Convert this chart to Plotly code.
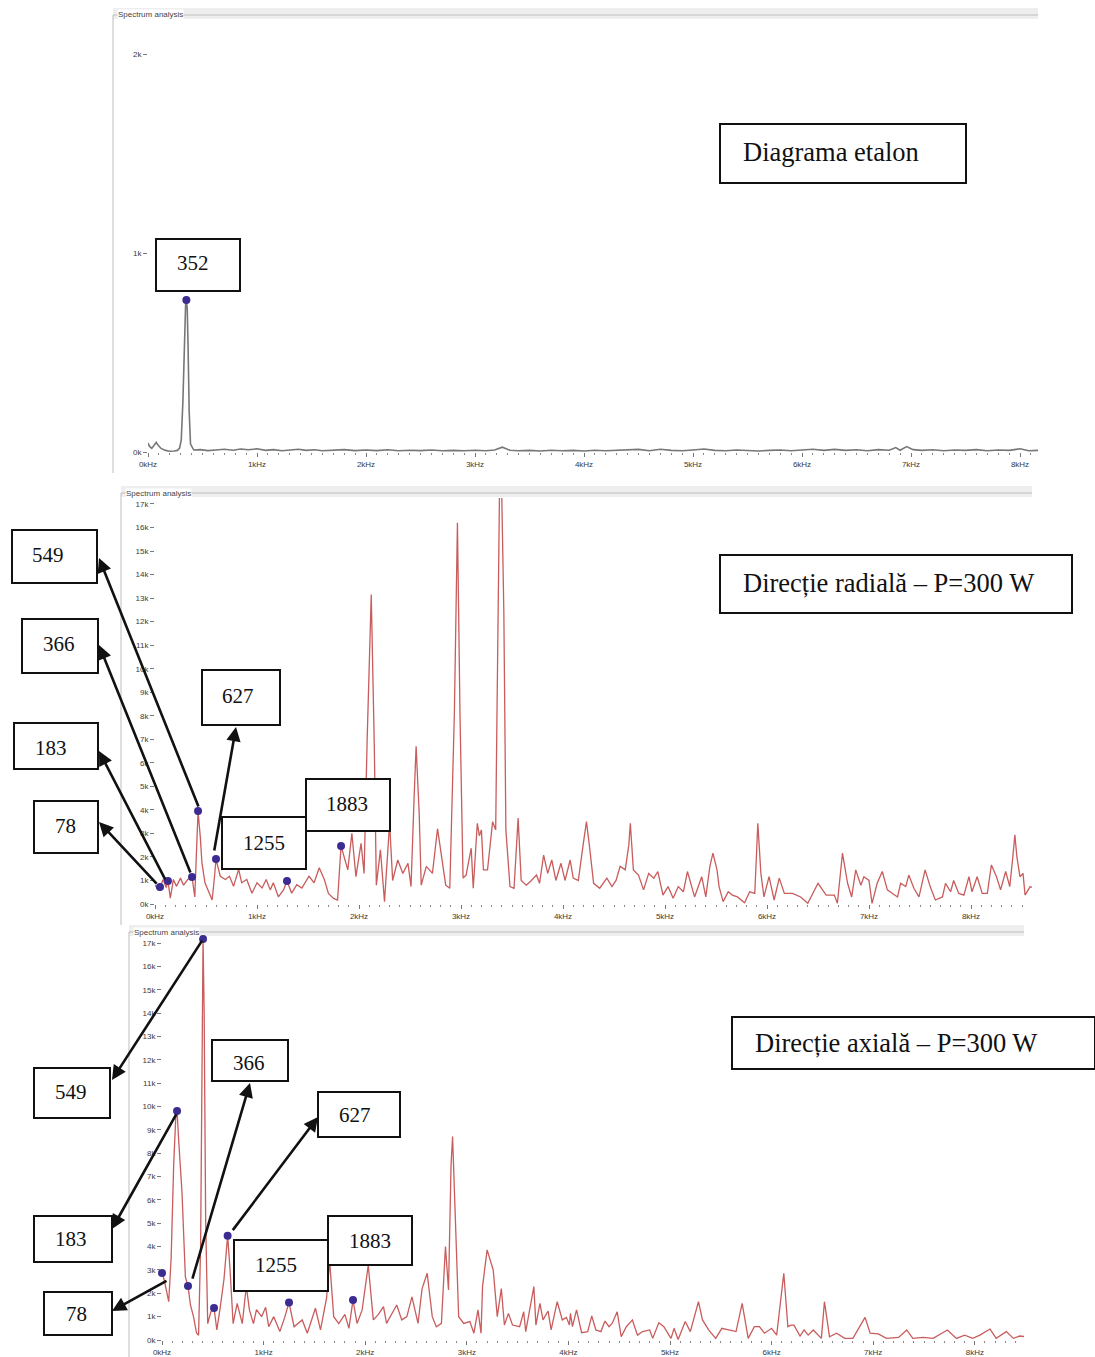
import plotly.graph_objects as go

W, H = 1095, 1357

# ---------------- DATA ----------------
# Panel 1 : reference spectrum (Diagrama etalon)
etalon_freq = [0, 15, 35, 55, 75, 95, 120, 160, 200, 240,
               270, 290, 305, 320, 335, 345, 352, 360, 368, 378,
               390, 420, 480, 550, 620, 700, 780, 850, 920, 1000, 1080,
               1150, 1230, 1300, 1380, 1450, 1530, 1600, 1700, 1800, 1900,
               2000, 2100, 2200, 2300, 2400, 2500, 2600, 2700, 2800, 2900,
               3000, 3100, 3180, 3250, 3320, 3400, 3500, 3600, 3700, 3800,
               3900, 4000, 4100, 4200, 4300, 4400, 4500, 4600, 4700, 4800,
               4900, 5000, 5100, 5200, 5300, 5400, 5500, 5600, 5700, 5800,
               5900, 6000, 6100, 6200, 6300, 6400, 6500, 6600, 6700, 6800,
               6860, 6900, 6960, 7020, 7100, 7200, 7300, 7400, 7500, 7600,
               7700, 7800, 7900, 8000, 8080, 8165]
etalon_amp = [45, 28, 18, 34, 48, 33, 18, 8, 4, 5,
              8, 20, 60, 250, 560, 740, 764, 720, 520, 200,
              40, 10, 12, 7, 10, 14, 9, 15, 11, 16, 8,
              12, 6, 10, 14, 8, 11, 6, 9, 12, 7,
              10, 7, 11, 6, 9, 7, 10, 6, 8, 6,
              9, 6, 10, 24, 9, 6, 8, 5, 9, 6,
              8, 5, 9, 6, 8, 11, 13, 6, 14, 8,
              6, 10, 15, 8, 6, 10, 7, 5, 8, 10,
              6, 10, 14, 8, 13, 8, 11, 6, 12, 9,
              22, 9, 27, 12, 8, 11, 6, 10, 8, 12,
              6, 10, 8, 16, 6, 8]
etalon_dot_freq = [352]
etalon_dot_amp = [764]

# Panel 2 : radial direction, P=300 W
radial_freq = [0, 30, 49, 80, 110, 127, 150, 180, 210, 250,
               280, 320, 363, 390, 410, 422, 445, 460, 490, 530,
               560, 580, 598, 640, 690, 730, 770, 820, 850, 900,
               950, 1000, 1050, 1090, 1130, 1160, 1210, 1260, 1294, 1340,
               1390, 1440, 1510, 1560, 1610, 1660, 1700, 1750, 1790, 1824,
               1890, 1930, 1970, 2020, 2050, 2080, 2120, 2150, 2170, 2210,
               2250, 2300, 2330, 2380, 2430, 2480, 2510, 2540, 2560, 2590,
               2610, 2660, 2720, 2770, 2820, 2850, 2890, 2935, 2965, 2990,
               3020, 3050, 3100, 3120, 3160, 3180, 3200, 3220, 3260, 3310,
               3340, 3365, 3380, 3395, 3420, 3440, 3480, 3520, 3560, 3590,
               3640, 3690, 3740, 3770, 3810, 3850, 3890, 3930, 3980, 4020,
               4070, 4100, 4150, 4200, 4230, 4260, 4300, 4360, 4430, 4480,
               4520, 4560, 4610, 4645, 4660, 4690, 4740, 4790, 4840, 4890,
               4930, 4980, 5030, 5080, 5130, 5180, 5220, 5290, 5360, 5400,
               5440, 5470, 5510, 5530, 5570, 5620, 5660, 5710, 5780, 5830,
               5880, 5900, 5910, 5940, 5970, 6020, 6070, 6120, 6170, 6250,
               6330, 6400, 6500, 6580, 6660, 6690, 6740, 6790, 6830, 6870,
               6920, 6950, 7000, 7030, 7080, 7130, 7180, 7230, 7280, 7310,
               7360, 7390, 7440, 7490, 7550, 7600, 7650, 7720, 7750, 7800,
               7830, 7880, 7930, 7980, 8010, 8060, 8110, 8160, 8200, 8250,
               8290, 8340, 8380, 8410, 8430, 8450, 8480, 8510, 8530, 8580,
               8598]
radial_amp = [800, 600, 720, 1040, 700, 980, 250, 1040, 750, 1100,
              800, 1040, 1150, 300, 2600, 3950, 2800, 1750, 900, 500,
              170, 1000, 1910, 1180, 1040, 1180, 750, 1470, 900, 1040,
              460, 900, 680, 1040, 600, 900, 300, 600, 980, 460,
              820, 680, 1180, 900, 1540, 1040, 450, 240, 170, 2465,
              1450, 3000, 1160, 2580, 1300, 7000, 13150, 6700, 800, 2300,
              100, 3430, 1000, 1870, 1300, 1730, 740, 4500, 6700, 3860,
              800, 1600, 1300, 3200, 1730, 800, 670, 8100, 16200, 8100,
              1100, 1230, 2370, 670, 3430, 2900, 3150, 1450, 1450, 3500,
              3150, 11500, 18500, 18500, 12400, 3150, 740, 670, 3650, 1000,
              800, 1000, 1230, 880, 2080, 1300, 1870, 1000, 1730, 1000,
              1870, 1100, 1000, 2600, 3500, 2440, 880, 670, 1100, 740,
              1000, 1600, 1450, 2500, 3430, 1450, 1230, 600, 1300, 1100,
              1380, 380, 740, 240, 740, 520, 1380, 300, 1160, 300,
              1600, 2160, 1450, 740, 100, 520, 380, 300, 50, 520,
              450, 2400, 3430, 1300, 300, 1160, 170, 1100, 450, 450,
              300, 30, 880, 380, 380, 30, 2160, 880, 300, 1450,
              800, 1160, 1000, 30, 880, 1380, 600, 450, 300, 880,
              740, 1230, 670, 300, 1450, 740, 170, 300, 880, 520,
              1000, 450, 380, 1160, 520, 1160, 450, 450, 1660, 1160,
              600, 1380, 740, 2000, 2940, 2000, 1160, 1300, 380, 740,
              700]
radial_dot_freq = [49, 127, 363, 422, 598, 1294, 1824]
radial_dot_amp = [720, 980, 1150, 3950, 1910, 980, 2465]

# Panel 3 : axial direction, P=300 W
axial_freq = [0, 20, 40, 66, 90, 115, 135, 148, 165, 197,
              230, 256, 280, 310, 340, 360, 380, 396, 404, 415,
              430, 450, 480, 512, 540, 570, 610, 646, 670, 700,
              740, 790, 830, 860, 900, 930, 980, 1020, 1050, 1100,
              1160, 1210, 1250, 1300, 1380, 1430, 1510, 1560, 1620, 1650,
              1690, 1740, 1800, 1840, 1880, 1920, 1970, 2030, 2080, 2130,
              2180, 2210, 2260, 2310, 2360, 2410, 2460, 2520, 2560, 2610,
              2660, 2700, 2750, 2790, 2820, 2845, 2860, 2880, 2920, 2970,
              3030, 3070, 3110, 3140, 3155, 3200, 3260, 3300, 3340, 3370,
              3410, 3450, 3520, 3560, 3580, 3660, 3680, 3720, 3750, 3800,
              3830, 3890, 3940, 3980, 4010, 4020, 4040, 4080, 4130, 4190,
              4230, 4270, 4320, 4360, 4400, 4430, 4480, 4520, 4570, 4630,
              4680, 4730, 4800, 4830, 4890, 4940, 5010, 5040, 5080, 5150,
              5200, 5280, 5320, 5380, 5450, 5510, 5570, 5650, 5710, 5770,
              5830, 5880, 5930, 6000, 6050, 6120, 6160, 6190, 6220, 6280,
              6320, 6360, 6410, 6490, 6520, 6570, 6640, 6720, 6800, 6850,
              6920, 6970, 7050, 7130, 7250, 7330, 7390, 7490, 7590, 7730,
              7820, 7900, 7980, 8050, 8150, 8210, 8310, 8380, 8440, 8484]
axial_amp = [2870, 2600, 2200, 1640, 3500, 7500, 9500, 9810, 8500, 6300,
             2700, 2310, 1500, 1000, 300, 200, 4000, 16000, 17170, 14000,
             5000, 700, 1200, 1370, 430, 1300, 2600, 4470, 3000, 700,
             1570, 700, 2300, 1300, 700, 1300, 1000, 1400, 570, 1000,
             360, 1000, 1610, 570, 860, 290, 1360, 430, 1800, 3400,
             1000, 700, 1100, 500, 1710, 710, 1290, 3200, 860, 1100,
             1430, 710, 1100, 1500, 860, 1000, 1850, 710, 2200, 2860,
             1000, 570, 710, 4000, 2140, 7500, 8710, 6000, 1000, 710,
             790, 290, 1290, 290, 2300, 3860, 3000, 1000, 2200, 640,
             1140, 640, 570, 1210, 360, 2290, 640, 1570, 860, 1240,
             430, 1640, 860, 970, 640, 1140, 570, 1290, 310, 360,
             1030, 430, 360, 810, 570, 710, 1210, 140, 570, 860,
             210, 360, 430, 70, 740, 570, 70, 500, 20, 790,
             360, 1640, 860, 430, 70, 500, 430, 360, 1570, 70,
             570, 570, 290, 500, 210, 2860, 570, 640, 640, 170,
             430, 210, 430, 70, 1640, 140, 290, 70, 70, 430,
             970, 290, 260, 70, 110, 430, 70, 110, 70, 430,
             70, 210, 70, 210, 470, 70, 360, 70, 170, 150]
axial_dot_freq = [0, 148, 256, 404, 512, 646, 1250, 1880]
axial_dot_amp = [2870, 9810, 2310, 17170, 1370, 4470, 1610, 1710]

# tick labels
x_tick_vals = [0, 1000, 2000, 3000, 4000, 5000, 6000, 7000, 8000]
x_tick_text = ["0kHz", "1kHz", "2kHz", "3kHz", "4kHz", "5kHz", "6kHz", "7kHz", "8kHz"]
y_small_vals = [0, 1000, 2000]
y_small_text = ["0k", "1k", "2k"]
y_big_vals = [0, 1000, 2000, 3000, 4000, 5000, 6000, 7000, 8000, 9000,
              10000, 11000, 12000, 13000, 14000, 15000, 16000, 17000]
y_big_text = ["0k", "1k", "2k", "3k", "4k", "5k", "6k", "7k", "8k", "9k",
              "10k", "11k", "12k", "13k", "14k", "15k", "16k", "17k"]

titles = ["Diagrama etalon", "Direcție radială – P=300 W", "Direcție axială – P=300 W"]
frame_label = "Spectrum analysis"
etalon_labels = ["352"]
radial_labels = ["549", "366", "627", "183", "78", "1883", "1255"]
axial_labels = ["549", "366", "627", "183", "78", "1883", "1255"]

# ---------------- LAYOUT GEOMETRY (pixels) ----------------
panels = [
    dict(x0=148, kpx=109.0, y0=452, vpx=199.0, right=1038, top=22,
         frame=(113, 15, 1038, 473), band=(113, 8, 1038, 19), lab=(117, 15)),
    dict(x0=155, kpx=102.0, y0=904, vpx=23.53, right=1032, top=498,
         frame=(121, 493, 1032, 925), band=(121, 486, 1032, 497), lab=(125, 493)),
    dict(x0=162, kpx=101.6, y0=1340, vpx=23.35, right=1024, top=937,
         frame=(129, 932, 1024, 1357), band=(129, 925, 1024, 936), lab=(133, 932)),
]


def px2paper(x, y):
    return x / W, 1 - y / H


def data2px(p, f, v):
    return p["x0"] + f / 1000.0 * p["kpx"], p["y0"] - v / 1000.0 * p["vpx"]


fig = go.Figure()

series = [
    (etalon_freq, etalon_amp, etalon_dot_freq, etalon_dot_amp, "#777777", 1.6),
    (radial_freq, radial_amp, radial_dot_freq, radial_dot_amp, "#c95c5c", 1.3),
    (axial_freq, axial_amp, axial_dot_freq, axial_dot_amp, "#c95c5c", 1.3),
]

tickfont = dict(family="Liberation Sans", size=8, color="#3a3a3a")
for i, (p, (fx, fy, dx, dy, col, lw)) in enumerate(zip(panels, series)):
    n = "" if i == 0 else str(i + 1)
    fig.add_trace(go.Scatter(x=fx, y=fy, mode="lines", line=dict(color=col, width=lw),
                             xaxis="x" + n, yaxis="y" + n, showlegend=False, hoverinfo="skip"))
    fig.add_trace(go.Scatter(x=dx, y=dy, mode="markers",
                             marker=dict(color="#3b2c91", size=8),
                             xaxis="x" + n, yaxis="y" + n, showlegend=False, cliponaxis=False))
    xr = (p["right"] - p["x0"]) / p["kpx"] * 1000.0
    yr = (p["y0"] - p["top"]) / p["vpx"] * 1000.0
    xdom = [p["x0"] / W, p["right"] / W]
    ydom = [1 - p["y0"] / H, 1 - p["top"] / H]
    if i == 0:
        yv, yt = y_small_vals, y_small_text
    else:
        yv, yt = y_big_vals, y_big_text
    fig.update_layout(**{
        "xaxis" + n: dict(domain=xdom, range=[0, xr], anchor="y" + n, automargin=False,
                          tickmode="array", tickvals=x_tick_vals, ticktext=x_tick_text,
                          ticks="outside", ticklen=4, tickwidth=1, tickcolor="#777777",
                          minor=dict(dtick=100, tick0=0, ticks="outside", ticklen=2,
                                     tickwidth=1, tickcolor="#888888"),
                          showgrid=False, zeroline=False, showline=False,
                          tickfont=tickfont, fixedrange=True),
        "yaxis" + n: dict(domain=ydom, range=[0, yr], anchor="x" + n, automargin=False,
                          tickmode="array", tickvals=yv, ticktext=yt,
                          ticks="outside", ticklen=4, tickwidth=1, tickcolor="#777777",
                          showgrid=False, zeroline=False, showline=False,
                          tickfont=tickfont, fixedrange=True),
    })

shapes = []
annotations = []

# frames of the "Spectrum analysis" group boxes
for p in panels:
    bx0, by0, bx1, by1 = p["band"]
    a0, b0 = px2paper(bx0, by0)
    a1, b1 = px2paper(bx1, by1)
    shapes.append(dict(type="rect", xref="paper", yref="paper", x0=a0, y0=b0, x1=a1, y1=b1,
                       fillcolor="#eeeeee", line=dict(width=0), layer="below"))
    fx0, fy0, fx1, fy1 = p["frame"]
    a0, b0 = px2paper(fx0, fy0)
    a1, b1 = px2paper(fx1, fy1)
    shapes.append(dict(type="line", xref="paper", yref="paper", x0=a0, y0=b0, x1=a1, y1=b0,
                       line=dict(color="#bdbdbd", width=1), layer="below"))
    shapes.append(dict(type="line", xref="paper", yref="paper", x0=a0, y0=b0, x1=a0, y1=b1,
                       line=dict(color="#bdbdbd", width=1), layer="below"))
    lx, ly = px2paper(*p["lab"])
    annotations.append(dict(text=frame_label, xref="paper", yref="paper", x=lx, y=ly,
                            xanchor="left", yanchor="middle", showarrow=False,
                            font=dict(family="Liberation Sans", size=8, color="#444444"),
                            bgcolor="#ffffff", borderpad=0))

# label boxes : (panel, text, box px, text anchor px)
boxes = [
    (0, titles[0], (720, 124, 966, 183), (741, 152), "left", 26.5),
    (0, etalon_labels[0], (156, 239, 240, 291), (193, 263), "center", 21),
    (1, titles[1], (720, 555, 1072, 613), (741, 583), "left", 26.5),
    (1, radial_labels[0], (12, 530, 97, 583), (48, 555), "center", 21),
    (1, radial_labels[1], (22, 619, 98, 673), (59, 644), "center", 21),
    (1, radial_labels[2], (202, 670, 280, 725), (238, 696), "center", 21),
    (1, radial_labels[3], (14, 723, 98, 769), (51, 748), "center", 21),
    (1, radial_labels[4], (34, 801, 98, 853), (65, 826), "center", 21),
    (1, radial_labels[5], (306, 779, 390, 831), (347, 804), "center", 21),
    (1, radial_labels[6], (222, 817, 306, 869), (264, 843), "center", 21),
    (2, titles[2], (732, 1017, 1095, 1069), (753, 1043), "left", 26.5),
    (2, axial_labels[0], (34, 1068, 110, 1118), (71, 1092), "center", 21),
    (2, axial_labels[1], (212, 1040, 288, 1081), (249, 1063), "center", 21),
    (2, axial_labels[2], (318, 1092, 400, 1137), (355, 1115), "center", 21),
    (2, axial_labels[3], (34, 1216, 112, 1262), (71, 1239), "center", 21),
    (2, axial_labels[4], (44, 1292, 112, 1335), (76, 1314), "center", 21),
    (2, axial_labels[5], (328, 1216, 412, 1265), (370, 1241), "center", 21),
    (2, axial_labels[6], (234, 1240, 328, 1291), (276, 1265), "center", 21),
]
for pi, txt, (x0, y0, x1, y1), (tx, ty), anc, fs in boxes:
    a0, b0 = px2paper(x0, y0)
    a1, b1 = px2paper(x1, y1)
    shapes.append(dict(type="rect", xref="paper", yref="paper", x0=a0, y0=b0, x1=a1, y1=b1,
                       fillcolor="#ffffff", line=dict(color="#111111", width=2), layer="above"))
    ax_, ay_ = px2paper(tx, ty)
    annotations.append(dict(text=txt, xref="paper", yref="paper", x=ax_, y=ay_,
                            xanchor=anc, yanchor="middle", showarrow=False,
                            font=dict(family="Liberation Serif", size=fs, color="#111111")))

# arrows : (panel, dot arrays, dot index, tail offset px, head px)
arrows = [
    (1, radial_dot_freq, radial_dot_amp, 3, (1, -3), (99, 558)),
    (1, radial_dot_freq, radial_dot_amp, 2, (-1, -3), (99, 645)),
    (1, radial_dot_freq, radial_dot_amp, 1, (-2, 0), (99, 751)),
    (1, radial_dot_freq, radial_dot_amp, 0, (-2, -2), (99, 822)),
    (1, radial_dot_freq, radial_dot_amp, 4, (-2, -7), (236, 727)),
    (2, axial_dot_freq, axial_dot_amp, 3, (0, 0), (112, 1080)),
    (2, axial_dot_freq, axial_dot_amp, 1, (0, 2), (112, 1229)),
    (2, axial_dot_freq, axial_dot_amp, 0, (6, 7), (112, 1311)),
    (2, axial_dot_freq, axial_dot_amp, 2, (4, -6), (250, 1083)),
    (2, axial_dot_freq, axial_dot_amp, 5, (4, -4), (318, 1117)),
]
for pi, dfx, dfy, k, (ox, oy), (hx, hy) in arrows:
    tx, ty = data2px(panels[pi], dfx[k], dfy[k])
    hpx, hpy = px2paper(hx, hy)
    annotations.append(dict(text="", xref="paper", yref="paper", axref="pixel", ayref="pixel",
                            x=hpx, y=hpy, ax=(tx + ox) - hx, ay=(ty + oy) - hy, showarrow=True,
                            arrowhead=2, arrowsize=1.1, arrowwidth=2.6, arrowcolor="#111111"))

fig.update_layout(width=W, height=H, margin=dict(l=0, r=0, t=0, b=0, autoexpand=False),
                  paper_bgcolor="#ffffff", plot_bgcolor="rgba(0,0,0,0)",
                  shapes=shapes, annotations=annotations, showlegend=False)

fig.write_html("out.html", config={"displayModeBar": False},
               post_script="document.body.style.margin='0';document.body.style.overflow='hidden';")
